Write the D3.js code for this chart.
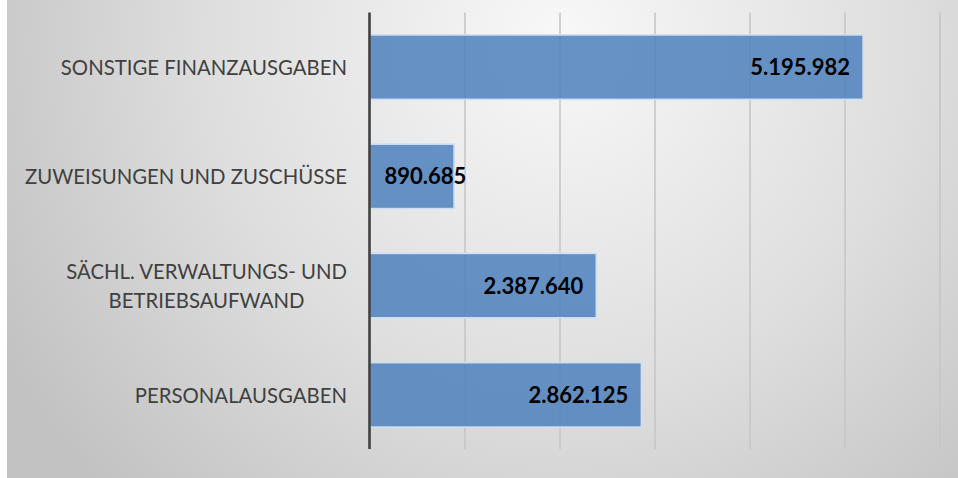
<!DOCTYPE html>
<html>
<head>
<meta charset="utf-8">
<script src="https://cdn.jsdelivr.net/npm/d3@7"></script>
<style>
  html, body { margin: 0; padding: 0; background: #ffffff; }
  svg { display: block; }
</style>
</head>
<body>
<svg id="chart" width="958" height="478"></svg>
<script>
// ---- data ----
const categories = [
  "SONSTIGE FINANZAUSGABEN",
  "ZUWEISUNGEN UND ZUSCHÜSSE",
  "SÄCHL. VERWALTUNGS- UND\nBETRIEBSAUFWAND",
  "PERSONALAUSGABEN"
];
const values = [5195982, 890685, 2387640, 2862125];
const valueLabels = ["5.195.982", "890.685", "2.387.640", "2.862.125"];
const xTicks = [0, 1000000, 2000000, 3000000, 4000000, 5000000, 6000000];

// ---- layout ----
const W = 958, H = 478;
const svg = d3.select("#chart");
const defs = svg.append("defs");

const bg = defs.append("radialGradient").attr("id", "bg")
  .attr("gradientUnits", "userSpaceOnUse")
  .attr("cx", 560).attr("cy", 40).attr("r", 640);
bg.append("stop").attr("offset", 0).attr("stop-color", "#f8f8f8");
bg.append("stop").attr("offset", 0.55).attr("stop-color", "#dedede");
bg.append("stop").attr("offset", 1).attr("stop-color", "#c2c2c2");

const gl = defs.append("linearGradient").attr("id", "grid")
  .attr("gradientUnits", "userSpaceOnUse")
  .attr("x1", 0).attr("y1", 12).attr("x2", 0).attr("y2", 449);
gl.append("stop").attr("offset", 0).attr("stop-color", "#c6c6c6");
gl.append("stop").attr("offset", 1).attr("stop-color", "#888888");

svg.append("rect").attr("x", 7).attr("y", 0).attr("width", W - 7).attr("height", H)
  .attr("fill", "url(#bg)");

const x = d3.scaleLinear().domain([0, 6000000]).range([369.5, 939.5]);
const y = d3.scaleBand().domain(categories).range([12.5, 449.5])
  .paddingInner(0.41).paddingOuter(0.205);

// gridlines
const gridAxis = d3.axisBottom(x).tickValues(xTicks.slice(1))
  .tickSize(-(449 - 12.5)).tickFormat("");
const gg = svg.append("g").attr("transform", "translate(0,449)").call(gridAxis);
gg.select(".domain").remove();
gg.selectAll(".tick line").attr("stroke", "url(#grid)").attr("stroke-width", 1.6);

// bars
svg.append("g").selectAll("rect").data(categories).join("rect")
  .attr("x", x(0))
  .attr("y", d => y(d))
  .attr("width", (d, i) => x(values[i]) - x(0))
  .attr("height", y.bandwidth())
  .attr("fill", "#4f81bd").attr("fill-opacity", 0.86)
  .attr("stroke", "#cfe0f3").attr("stroke-width", 1.6);

// category axis line
const yAxis = d3.axisLeft(y).tickSize(0).tickFormat("");
const ya = svg.append("g").attr("transform", `translate(${x(0)},0)`).call(yAxis);
ya.select(".domain").attr("stroke", "#404040").attr("stroke-width", 2.6)
  .attr("d", "M0,12.5V449");

// category labels (condensed, like Calibri)
const squeeze = 0.925;
const lab = svg.append("g").selectAll("text").data(categories).join("text")
  .attr("text-anchor", "middle")
  .attr("font-family", "Lato, 'Open Sans', sans-serif")
  .attr("font-size", 22)
  .attr("fill", "#404040");
lab.each(function(d) {
  const lines = d.split("\n");
  const t = d3.select(this);
  const cy = y(d) + y.bandwidth() / 2;
  const lh = 28.5;
  lines.forEach((ln, k) => {
    t.append("tspan").text(ln)
      .attr("y", cy + (k - (lines.length - 1) / 2) * lh)
      .attr("dy", "0.36em");
  });
  let maxW = 0;
  t.selectAll("tspan").each(function() {
    const w = this.getComputedTextLength() * squeeze;
    d3.select(this).attr("textLength", w).attr("lengthAdjust", "spacingAndGlyphs");
    maxW = Math.max(maxW, w);
  });
  const cx = 347 - maxW / 2;
  t.selectAll("tspan").attr("x", cx);
});

// value labels (inside end)
svg.append("g").selectAll("text").data(categories).join("text")
  .attr("font-family", "Lato, 'Open Sans', sans-serif")
  .attr("font-weight", "bold")
  .attr("font-size", 22)
  .attr("fill", "#000000")
  .attr("text-anchor", "end")
  .attr("y", d => y(d) + y.bandwidth() / 2)
  .attr("dy", "0.36em")
  .text((d, i) => valueLabels[i])
  .attr("x", function(d, i) {
    const w = this.getComputedTextLength();
    return Math.max(x(values[i]) - 13, x(0) + 15 + w);
  });
</script>
</body>
</html>
